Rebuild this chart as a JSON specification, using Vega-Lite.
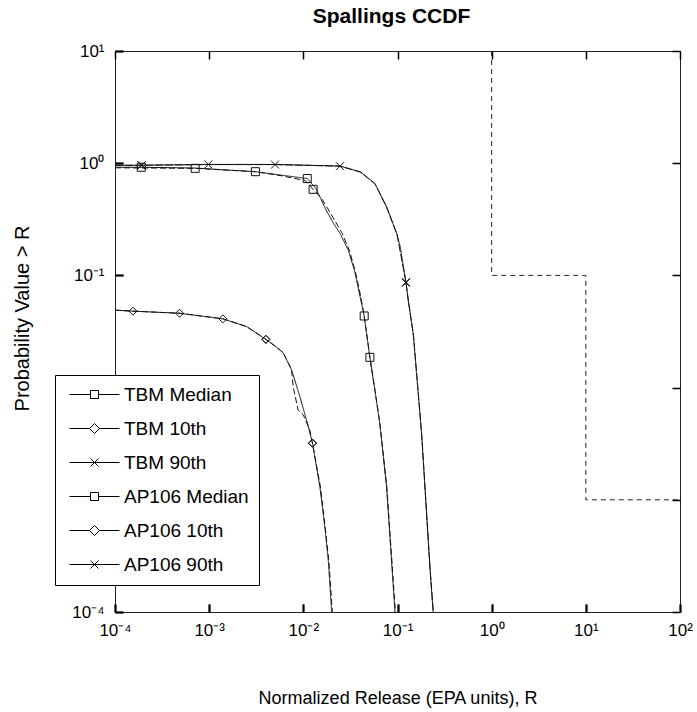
{
  "$schema": "https://vega.github.io/schema/vega-lite/v6.json",
  "width": 565,
  "height": 561,
  "autosize": {"type": "none"},
  "padding": {"left": 115, "top": 51, "right": 17, "bottom": 100},
  "background": "white",
  "title": {"text": "Spallings CCDF", "font": "Liberation Sans", "fontSize": 21, "fontWeight": "bold", "color": "black", "anchor": "middle", "offset": 15, "dx": -6},
  "config": {
    "view": {"stroke": "#222", "strokeWidth": 1},
    "axis": {"labelFont": "Liberation Sans", "titleFont": "Liberation Sans", "labelFontSize": 17, "titleFontSize": 18, "titleFontWeight": "normal", "labelColor": "black", "titleColor": "black", "domain": false, "labelFlush": false, "labelOverlap": false}
  },
  "datasets": {
    "limit": [
      {"R": 1, "P": 10}, {"R": 1, "P": 0.1}, {"R": 10, "P": 0.1}, {"R": 10, "P": 0.001}, {"R": 100, "P": 0.001}
    ],
    "curves": [
      {"s": "TBM Median", "R": 0.0001, "P": 0.92}, {"s": "TBM Median", "R": 0.00019, "P": 0.92}, {"s": "TBM Median", "R": 0.00071, "P": 0.905}, {"s": "TBM Median", "R": 0.0031, "P": 0.84}, {"s": "TBM Median", "R": 0.006, "P": 0.78}, {"s": "TBM Median", "R": 0.011, "P": 0.73}, {"s": "TBM Median", "R": 0.0135, "P": 0.6}, {"s": "TBM Median", "R": 0.015, "P": 0.5}, {"s": "TBM Median", "R": 0.0175, "P": 0.38}, {"s": "TBM Median", "R": 0.021, "P": 0.29}, {"s": "TBM Median", "R": 0.025, "P": 0.23}, {"s": "TBM Median", "R": 0.03, "P": 0.168}, {"s": "TBM Median", "R": 0.035, "P": 0.11}, {"s": "TBM Median", "R": 0.04, "P": 0.065}, {"s": "TBM Median", "R": 0.0443, "P": 0.0435}, {"s": "TBM Median", "R": 0.0509, "P": 0.0186}, {"s": "TBM Median", "R": 0.058, "P": 0.009}, {"s": "TBM Median", "R": 0.065, "P": 0.0047}, {"s": "TBM Median", "R": 0.0766, "P": 0.0013}, {"s": "TBM Median", "R": 0.094, "P": 0.0001},
      {"s": "AP106 Median", "R": 0.0001, "P": 0.91}, {"s": "AP106 Median", "R": 0.00071, "P": 0.9}, {"s": "AP106 Median", "R": 0.0031, "P": 0.84}, {"s": "AP106 Median", "R": 0.006, "P": 0.77}, {"s": "AP106 Median", "R": 0.0105, "P": 0.7}, {"s": "AP106 Median", "R": 0.0127, "P": 0.585}, {"s": "AP106 Median", "R": 0.0155, "P": 0.49}, {"s": "AP106 Median", "R": 0.018, "P": 0.4}, {"s": "AP106 Median", "R": 0.022, "P": 0.3}, {"s": "AP106 Median", "R": 0.026, "P": 0.235}, {"s": "AP106 Median", "R": 0.031, "P": 0.165}, {"s": "AP106 Median", "R": 0.036, "P": 0.105}, {"s": "AP106 Median", "R": 0.041, "P": 0.063}, {"s": "AP106 Median", "R": 0.0443, "P": 0.0435}, {"s": "AP106 Median", "R": 0.0509, "P": 0.0186}, {"s": "AP106 Median", "R": 0.058, "P": 0.0092}, {"s": "AP106 Median", "R": 0.065, "P": 0.0048}, {"s": "AP106 Median", "R": 0.077, "P": 0.0013}, {"s": "AP106 Median", "R": 0.095, "P": 0.0001},
      {"s": "TBM 10th", "R": 0.0001, "P": 0.049}, {"s": "TBM 10th", "R": 0.000155, "P": 0.048}, {"s": "TBM 10th", "R": 0.000485, "P": 0.046}, {"s": "TBM 10th", "R": 0.0014, "P": 0.041}, {"s": "TBM 10th", "R": 0.0025, "P": 0.035}, {"s": "TBM 10th", "R": 0.004, "P": 0.0269}, {"s": "TBM 10th", "R": 0.005, "P": 0.0235}, {"s": "TBM 10th", "R": 0.0061, "P": 0.0205}, {"s": "TBM 10th", "R": 0.0075, "P": 0.0144}, {"s": "TBM 10th", "R": 0.0092, "P": 0.0083}, {"s": "TBM 10th", "R": 0.0113, "P": 0.0045}, {"s": "TBM 10th", "R": 0.0125, "P": 0.0032}, {"s": "TBM 10th", "R": 0.015, "P": 0.0013}, {"s": "TBM 10th", "R": 0.0169, "P": 0.000575}, {"s": "TBM 10th", "R": 0.0184, "P": 0.00029}, {"s": "TBM 10th", "R": 0.02, "P": 0.0001},
      {"s": "AP106 10th", "R": 0.0001, "P": 0.049}, {"s": "AP106 10th", "R": 0.000155, "P": 0.048}, {"s": "AP106 10th", "R": 0.000485, "P": 0.046}, {"s": "AP106 10th", "R": 0.0014, "P": 0.041}, {"s": "AP106 10th", "R": 0.0025, "P": 0.035}, {"s": "AP106 10th", "R": 0.004, "P": 0.0269}, {"s": "AP106 10th", "R": 0.005, "P": 0.0235}, {"s": "AP106 10th", "R": 0.0061, "P": 0.0205}, {"s": "AP106 10th", "R": 0.0075, "P": 0.0144}, {"s": "AP106 10th", "R": 0.0078, "P": 0.0102}, {"s": "AP106 10th", "R": 0.0088, "P": 0.0063}, {"s": "AP106 10th", "R": 0.01, "P": 0.0057}, {"s": "AP106 10th", "R": 0.0117, "P": 0.0042}, {"s": "AP106 10th", "R": 0.0125, "P": 0.0032}, {"s": "AP106 10th", "R": 0.0152, "P": 0.0013}, {"s": "AP106 10th", "R": 0.0171, "P": 0.00056}, {"s": "AP106 10th", "R": 0.0187, "P": 0.00028}, {"s": "AP106 10th", "R": 0.0203, "P": 0.0001},
      {"s": "TBM 90th", "R": 0.0001, "P": 0.96}, {"s": "TBM 90th", "R": 0.000192, "P": 0.96}, {"s": "TBM 90th", "R": 0.00098, "P": 0.975}, {"s": "TBM 90th", "R": 0.005, "P": 0.975}, {"s": "TBM 90th", "R": 0.0245, "P": 0.944}, {"s": "TBM 90th", "R": 0.04, "P": 0.84}, {"s": "TBM 90th", "R": 0.0575, "P": 0.66}, {"s": "TBM 90th", "R": 0.0766, "P": 0.41}, {"s": "TBM 90th", "R": 0.098, "P": 0.237}, {"s": "TBM 90th", "R": 0.107, "P": 0.18}, {"s": "TBM 90th", "R": 0.123, "P": 0.087}, {"s": "TBM 90th", "R": 0.13, "P": 0.06}, {"s": "TBM 90th", "R": 0.1466, "P": 0.0305}, {"s": "TBM 90th", "R": 0.18, "P": 0.0039}, {"s": "TBM 90th", "R": 0.221, "P": 0.00025}, {"s": "TBM 90th", "R": 0.239, "P": 0.0001},
      {"s": "AP106 90th", "R": 0.0001, "P": 0.955}, {"s": "AP106 90th", "R": 0.000192, "P": 0.958}, {"s": "AP106 90th", "R": 0.00098, "P": 0.972}, {"s": "AP106 90th", "R": 0.005, "P": 0.972}, {"s": "AP106 90th", "R": 0.0245, "P": 0.94}, {"s": "AP106 90th", "R": 0.041, "P": 0.83}, {"s": "AP106 90th", "R": 0.058, "P": 0.65}, {"s": "AP106 90th", "R": 0.077, "P": 0.4}, {"s": "AP106 90th", "R": 0.099, "P": 0.23}, {"s": "AP106 90th", "R": 0.123, "P": 0.086}, {"s": "AP106 90th", "R": 0.131, "P": 0.058}, {"s": "AP106 90th", "R": 0.148, "P": 0.029}, {"s": "AP106 90th", "R": 0.181, "P": 0.0038}, {"s": "AP106 90th", "R": 0.222, "P": 0.00024}, {"s": "AP106 90th", "R": 0.24, "P": 0.0001}
    ],
    "marks": [
      {"s": "TBM Median", "R": 0.00019, "P": 0.92}, {"s": "TBM Median", "R": 0.0031, "P": 0.84}, {"s": "TBM Median", "R": 0.011, "P": 0.73}, {"s": "TBM Median", "R": 0.0443, "P": 0.0435},
      {"s": "AP106 Median", "R": 0.00071, "P": 0.9}, {"s": "AP106 Median", "R": 0.0127, "P": 0.585}, {"s": "AP106 Median", "R": 0.0509, "P": 0.0186},
      {"s": "TBM 10th", "R": 0.000155, "P": 0.048}, {"s": "TBM 10th", "R": 0.0014, "P": 0.041}, {"s": "TBM 10th", "R": 0.004, "P": 0.0269}, {"s": "TBM 10th", "R": 0.0125, "P": 0.0032},
      {"s": "AP106 10th", "R": 0.000485, "P": 0.046}, {"s": "AP106 10th", "R": 0.004, "P": 0.0269}, {"s": "AP106 10th", "R": 0.0125, "P": 0.0032},
      {"s": "TBM 90th", "R": 0.000192, "P": 0.96}, {"s": "TBM 90th", "R": 0.00098, "P": 0.975}, {"s": "TBM 90th", "R": 0.123, "P": 0.087},
      {"s": "AP106 90th", "R": 0.000192, "P": 0.958}, {"s": "AP106 90th", "R": 0.005, "P": 0.972}, {"s": "AP106 90th", "R": 0.0245, "P": 0.94}, {"s": "AP106 90th", "R": 0.123, "P": 0.086}
    ]
  },
  "layer": [
    {
      "data": {"name": "limit"},
      "mark": {"type": "line", "color": "#222", "strokeWidth": 1, "strokeDash": [5, 4]},
      "encoding": {
        "x": {"field": "R", "type": "quantitative", "scale": {"type": "log", "domain": [0.0001, 100], "nice": false},
              "axis": {"orient": "bottom", "values": [0.0001, 0.001, 0.01, 0.1, 1, 10, 100], "labelPadding": 18,
                       "ticks": true, "tickSize": -8, "tickWidth": 2, "tickColor": "black",
                       "grid": true, "gridColor": "black", "gridWidth": 1.5, "gridOpacity": 1, "gridDash": [8, 545, 8, 2000],
                       "labelExpr": "['10⁻⁴','10⁻³','10⁻²','10⁻¹','10⁰','10¹','10²'][round(log(datum.value)/LN10)+4]",
                       "title": "Normalized Release (EPA units), R", "titleY": 86, "titleBaseline": "middle"}},
        "y": {"field": "P", "type": "quantitative", "scale": {"type": "log", "domain": [0.0001, 10], "nice": false},
              "axis": {"orient": "left", "values": [0.0001, 0.001, 0.01, 0.1, 1, 10], "labelPadding": 19,
                       "ticks": true, "tickSize": -8, "tickWidth": 2, "tickColor": "black",
                       "grid": true, "gridColor": "black", "gridWidth": 1.5, "gridOpacity": 1, "gridDash": [8, 549, 8, 2000],
                       "labelExpr": "['10⁻⁴','','','10⁻¹','10⁰','10¹'][round(log(datum.value)/LN10)+4]",
                       "title": "Probability Value > R", "titleX": -93, "titleY": 267, "titleBaseline": "middle", "titleAngle": 270, "titleFontSize": 20}},
        "order": {"value": null}
      }
    },
    {
      "data": {"name": "curves"},
      "mark": {"type": "line", "color": "#111", "strokeWidth": 1},
      "encoding": {
        "x": {"field": "R", "type": "quantitative"},
        "y": {"field": "P", "type": "quantitative"},
        "detail": {"field": "s"},
        "strokeDash": {"field": "s", "type": "nominal", "legend": null,
                       "scale": {"domain": ["TBM Median", "TBM 10th", "TBM 90th", "AP106 Median", "AP106 10th", "AP106 90th"],
                                 "range": [[1, 0], [1, 0], [1, 0], [6, 3], [6, 3], [8, 2]]}},
        "order": {"value": null}
      }
    },
    {
      "data": {"name": "marks"},
      "mark": {"type": "point", "filled": false, "color": "#111", "strokeWidth": 1, "size": 64, "opacity": 1},
      "encoding": {
        "x": {"field": "R", "type": "quantitative"},
        "y": {"field": "P", "type": "quantitative"},
        "shape": {"field": "s", "type": "nominal", "legend": null,
                  "scale": {"domain": ["TBM Median", "TBM 10th", "TBM 90th", "AP106 Median", "AP106 10th", "AP106 90th"],
                            "range": ["square", "diamond", "M-1,-1L1,1M-1,1L1,-1", "square", "diamond", "M-1,-1L1,1M-1,1L1,-1"]}}
      }
    },
    {
      "data": {"name": "marks"},
      "mark": {"type": "point", "filled": false, "color": "black", "strokeWidth": 1, "size": 100, "opacity": 0},
      "encoding": {
        "x": {"field": "R", "type": "quantitative"},
        "y": {"field": "P", "type": "quantitative"},
        "shape": {"field": "s", "type": "nominal",
                  "scale": {"domain": ["TBM Median", "TBM 10th", "TBM 90th", "AP106 Median", "AP106 10th", "AP106 90th"],
                            "range": ["M-1,0H3.2M4.8,0H9M3.2,-0.8H4.8V0.8H3.2Z", "M-1,0H3M5,0H9M4,-1L5,0L4,1L3,0Z", "M-1,0H9M3.2,-0.8L4.8,0.8M3.2,0.8L4.8,-0.8",
                                      "M-1,0H3.2M4.8,0H9M3.2,-0.8H4.8V0.8H3.2Z", "M-1,0H3M5,0H9M4,-1L5,0L4,1L3,0Z", "M-1,0H9M3.2,-0.8L4.8,0.8M3.2,0.8L4.8,-0.8"]},
                  "legend": {"title": null, "orient": "none", "legendX": -60, "legendY": 324,
                             "fillColor": "white", "strokeColor": "black", "padding": 10,
                             "symbolSize": 100, "symbolOpacity": 1, "symbolStrokeColor": "black", "symbolFillColor": "transparent", "symbolStrokeWidth": 1,
                             "labelFont": "Liberation Sans", "labelFontSize": 19, "labelColor": "black", "labelOffset": 40, "labelLimit": 0,
                             "rowPadding": 14,
                             "encode": {"legend": {"update": {"strokeWidth": {"value": 2.5}}}}}}
      }
    }
  ],
  "resolve": {"scale": {"shape": "independent"}}
}
